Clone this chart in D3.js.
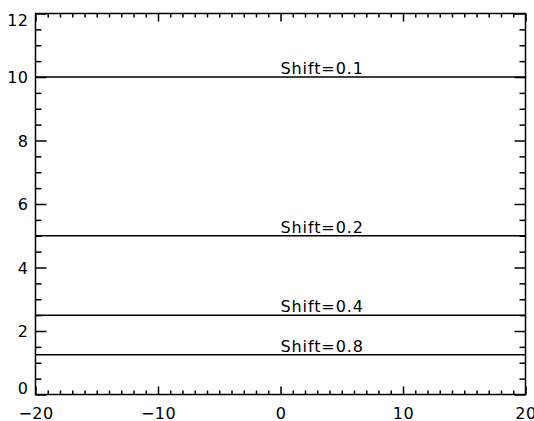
<!DOCTYPE html>
<html>
<head>
<meta charset="utf-8">
<script src="https://cdn.jsdelivr.net/npm/d3@7"></script>
<style>
  html, body { margin: 0; padding: 0; background: #fff; overflow: hidden; }
  svg { display: block; }
  text { font-family: "DejaVu Sans", sans-serif; font-size: 16px; fill: #000; }
</style>
</head>
<body>
<svg id="chart" width="534" height="421"></svg>
<script>
// Series: one horizontal level per shift value
const shifts = [0.1, 0.2, 0.4, 0.8];
const levels = [10, 5, 2.5, 1.25];
const labelX = [0, 0, 0, 0];

// Axis tick values
const xMajor = [-20, -10, 0, 10, 20];
const yMajor = [0, 2, 4, 6, 8, 10, 12];
const xDomain = [-20, 20];
const yDomain = [0, 12];

const W = 534, H = 421;
const box = { left: 35.5, right: 525.5, top: 13.5, bottom: 394.5 };

const svg = d3.select("#chart");
const x = d3.scaleLinear().domain(xDomain).range([box.left, box.right]);
const y = d3.scaleLinear().domain(yDomain).range([box.bottom, box.top]);

const xMinor = d3.range(xDomain[0], xDomain[1] + 0.001, 1).filter(v => !xMajor.includes(v));
const yMinor = d3.range(yDomain[0], yDomain[1] + 0.001, 0.5).filter(v => !yMajor.includes(v));

const stroke = "#000";
const sw = 1.5;

function styleAxis(g) {
  g.select(".domain").remove();
  g.selectAll(".tick line").attr("stroke", stroke).attr("stroke-width", sw);
}

// Bottom axis: major (labelled) + minor ticks, pointing inward
svg.append("g").attr("transform", `translate(0,${box.bottom})`)
  .call(d3.axisBottom(x).tickValues(xMinor).tickSize(-4).tickFormat(""))
  .call(styleAxis);
const gx = svg.append("g").attr("transform", `translate(0,${box.bottom})`)
  .call(d3.axisBottom(x).tickValues(xMajor).tickSize(-8).tickPadding(0).tickFormat(d3.format("d")))
  .call(styleAxis);
gx.selectAll(".tick text").attr("dy", null).attr("y", 24).attr("letter-spacing", "0.5px");

// Top axis: ticks only
svg.append("g").attr("transform", `translate(0,${box.top})`)
  .call(d3.axisTop(x).tickValues(xMinor).tickSize(-4).tickFormat(""))
  .call(styleAxis);
svg.append("g").attr("transform", `translate(0,${box.top})`)
  .call(d3.axisTop(x).tickValues(xMajor).tickSize(-8).tickFormat(""))
  .call(styleAxis);

// Left axis: labelled
svg.append("g").attr("transform", `translate(${box.left},0)`)
  .call(d3.axisLeft(y).tickValues(yMinor).tickSize(-6).tickFormat(""))
  .call(styleAxis);
const gy = svg.append("g").attr("transform", `translate(${box.left},0)`)
  .call(d3.axisLeft(y).tickValues(yMajor).tickSize(-11).tickPadding(7).tickFormat(d3.format("d")))
  .call(styleAxis);
// keep end labels inside the vertical extent of the frame
const half = 6.5;
gy.selectAll(".tick text")
  .attr("x", -7)
  .attr("dy", "0.36em")
  .attr("letter-spacing", "0.5px")
  .attr("y", d => {
    const p = y(d);
    const c = Math.max(box.top + half, Math.min(box.bottom - half, p));
    return c - p;
  });

// Right axis: ticks only
svg.append("g").attr("transform", `translate(${box.right},0)`)
  .call(d3.axisRight(y).tickValues(yMinor).tickSize(-6).tickFormat(""))
  .call(styleAxis);
svg.append("g").attr("transform", `translate(${box.right},0)`)
  .call(d3.axisRight(y).tickValues(yMajor).tickSize(-11).tickFormat(""))
  .call(styleAxis);

// Frame
svg.append("rect")
  .attr("x", box.left).attr("y", box.top)
  .attr("width", box.right - box.left).attr("height", box.bottom - box.top)
  .attr("fill", "none").attr("stroke", stroke).attr("stroke-width", sw);

// Level lines
const data = shifts.map((s, i) => ({ shift: s, level: levels[i], lx: labelX[i] }));
const line = d3.line().x(d => x(d[0])).y(d => y(d[1]));

svg.append("g").selectAll("path").data(data).join("path")
  .attr("d", d => line([[xDomain[0], d.level], [xDomain[1], d.level]]))
  .attr("fill", "none").attr("stroke", stroke).attr("stroke-width", sw);

svg.append("g").selectAll("text").data(data).join("text")
  .attr("x", d => x(d.lx))
  .attr("y", d => y(d.level) - 3)
  .attr("letter-spacing", "0.9px")
  .text(d => `Shift=${d.shift}`);
</script>
</body>
</html>
